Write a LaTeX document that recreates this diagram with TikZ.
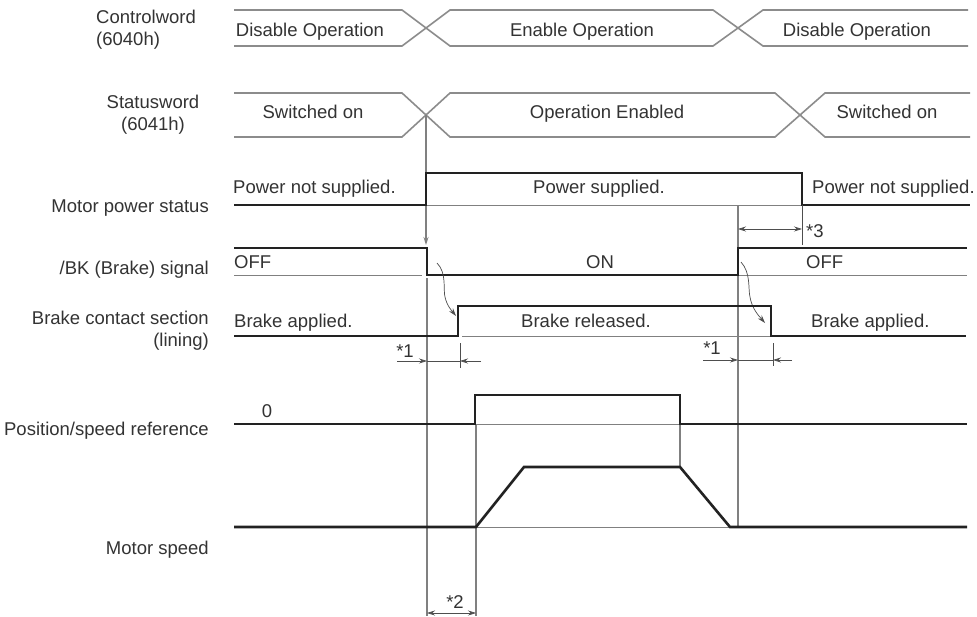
\documentclass[tikz,border=0pt]{standalone}
\usepackage{fontspec}
\setmainfont{Liberation Sans}
\usetikzlibrary{arrows.meta}
\definecolor{txt}{HTML}{333333}
\definecolor{sigc}{HTML}{222222}
\definecolor{busc}{HTML}{8C8C8C}
\definecolor{guidec}{HTML}{808080}
\tikzset{
  sig/.style={draw=sigc, line width=2.6pt, line join=miter},
  bus/.style={draw=busc, line width=1.6pt},
  guide/.style={draw=guidec, line width=1.1pt},
  base/.style={draw=guidec, line width=0.8pt},
  dim/.style={draw=sigc!80, line width=0.7pt},
  tip/.style={-{Stealth[length=8pt,width=5pt]}},
  lbl/.style={text=txt, inner sep=0pt, font=\fontsize{18.5}{22}\selectfont, anchor=base},
  lblw/.style={lbl, anchor=base west},
  lble/.style={lbl, anchor=base east},
}
\begin{document}
\begin{tikzpicture}[x=1pt,y=-1pt]
\useasboundingbox (0,0) rectangle (977,616);
\fill[white] (0,0) rectangle (977,616);

% left labels
\node[lbl, anchor=base west, align=left] (cw) at (96,45) {Controlword\\(6040h)};
\node[lbl, anchor=base, align=center] (sw) at (153,130) {Statusword\\(6041h)};
\node[lble] (mps) at (209,212) {Motor power status};
\node[lble] (bk) at (209,274) {/BK (Brake) signal};
\node[lble, align=right] (bcs) at (209,346) {Brake contact section\\(lining)};
\node[lble] (psr) at (209,435) {Position/speed reference};
\node[lble] (ms) at (209,554) {Motor speed};

% Controlword bus
\draw[bus] (234,10) -- (402,10) -- (450,46) -- (713,46) -- (763,10) -- (968,10);
\draw[bus] (234,46) -- (402,46) -- (450,10) -- (713,10) -- (763,46) -- (968,46);
\node[lbl] (cw1) at (310,36) {Disable Operation};
\node[lbl] (cw2) at (582,36) {Enable Operation};
\node[lbl] (cw3) at (857,36) {Disable Operation};

% Statusword bus
\draw[bus] (234,93) -- (402,93) -- (450,137) -- (775,137) -- (825,93) -- (970,93);
\draw[bus] (234,137) -- (402,137) -- (450,93) -- (775,93) -- (825,137) -- (970,137);
\node[lbl] (sw1) at (313,118) {Switched on};
\node[lbl] (sw2) at (607,118) {Operation Enabled};
\node[lbl] (sw3) at (887,118) {Switched on};

% key coordinates
\coordinate (x1) at (426,115);
\coordinate (x1b) at (426,245);

% guides
\draw[guide, tip] (x1) -- (x1b);
\draw[guide] (427,278) -- (427,616);
\draw[guide] (476,424) -- (476,616);
\draw[guide] (680,424) -- (680,467);
\draw[guide] (738,205) -- (738,527);

% Motor power status
\draw[base] (426,205) -- (802,205);
\draw[sig] (234,205) -- (426,205) -- (426,173) -- (802,173) -- (802,205) -- (970,205);
\node[lblw] (p1) at (233,193) {Power not supplied.};
\node[lbl] (p2) at (599,193) {Power supplied.};
\node[lblw] (p3) at (812,193) {Power not supplied.};

% *3
\coordinate (d3a) at (738,229);
\coordinate (d3b) at (802,229);
\draw[dim, {Stealth[length=8pt,width=5pt]}-{Stealth[length=8pt,width=5pt]}] (d3a) -- (d3b);
\draw[dim] (802,205) -- (802,245);
\node[lblw] (s3) at (806,237) {*3};

% /BK signal
\draw[base] (234,275) -- (422,275);
\draw[base] (738,275) -- (967,275);
\draw[sig] (234,248) -- (427,248) -- (427,275) -- (738,275) -- (738,248) -- (967,248);
\node[lblw] (b1) at (234,268) {OFF};
\node[lbl] (b2) at (600,268) {ON};
\node[lblw] (b3) at (806,268) {OFF};

% curved arrows
\coordinate (c1s) at (437,263);
\coordinate (c1e) at (456,316);
\coordinate (c2s) at (741,262);
\coordinate (c2e) at (765,323);
\draw[dim, tip] (c1s) .. controls (447,273) and (443,290) .. (445,297) .. controls (447,306) and (452,311) .. (c1e);
\draw[dim, tip] (c2s) .. controls (751,273) and (748,289) .. (750,297) .. controls (752,309) and (759,316) .. (c2e);

% Brake contact section
\draw[base] (462,336) -- (771,336);
\draw[sig] (234,336) -- (458,336) -- (458,306) -- (771,306) -- (771,336) -- (966,336);
\node[lblw] (r1) at (234,327) {Brake applied.};
\node[lbl] (r2) at (586,327) {Brake released.};
\node[lblw] (r3) at (811,327) {Brake applied.};

% *1 left
\coordinate (l1a) at (397,361);
\coordinate (l1b) at (427,361);
\coordinate (l1c) at (460,361);
\coordinate (l1d) at (481,361);
\draw[dim, tip] (l1a) -- (l1b);
\draw[dim] (l1b) -- (l1c);
\draw[dim, tip] (l1d) -- (l1c);
\draw[dim] (460,343) -- (460,368);
\node[lbl] (s1a) at (405,357) {*1};

% *1 right
\coordinate (r1a) at (703,360);
\coordinate (r1b) at (738,360);
\coordinate (r1c) at (773,360);
\coordinate (r1d) at (792,360);
\draw[dim, tip] (r1a) -- (r1b);
\draw[dim] (r1b) -- (r1c);
\draw[dim, tip] (r1d) -- (r1c);
\draw[dim] (773,343) -- (773,366);
\node[lbl] (s1b) at (712,354) {*1};

% Position/speed reference
\draw[base] (475,424) -- (680,424);
\draw[sig] (234,424) -- (475,424) -- (475,395) -- (680,395) -- (680,424) -- (967,424);
\node[lbl] (z0) at (267,417) {0};

% Motor speed
\draw[base] (476,527) -- (730,527);
\draw[sig] (234,527) -- (476,527) -- (524,467) -- (680,467) -- (730,527) -- (967,527);

% *2
\coordinate (d2a) at (427,613);
\coordinate (d2b) at (476,613);
\draw[dim, {Stealth[length=8pt,width=5pt]}-{Stealth[length=8pt,width=5pt]}] (d2a) -- (d2b);
\node[lbl] (s2) at (455,608) {*2};
\end{tikzpicture}
\end{document}
